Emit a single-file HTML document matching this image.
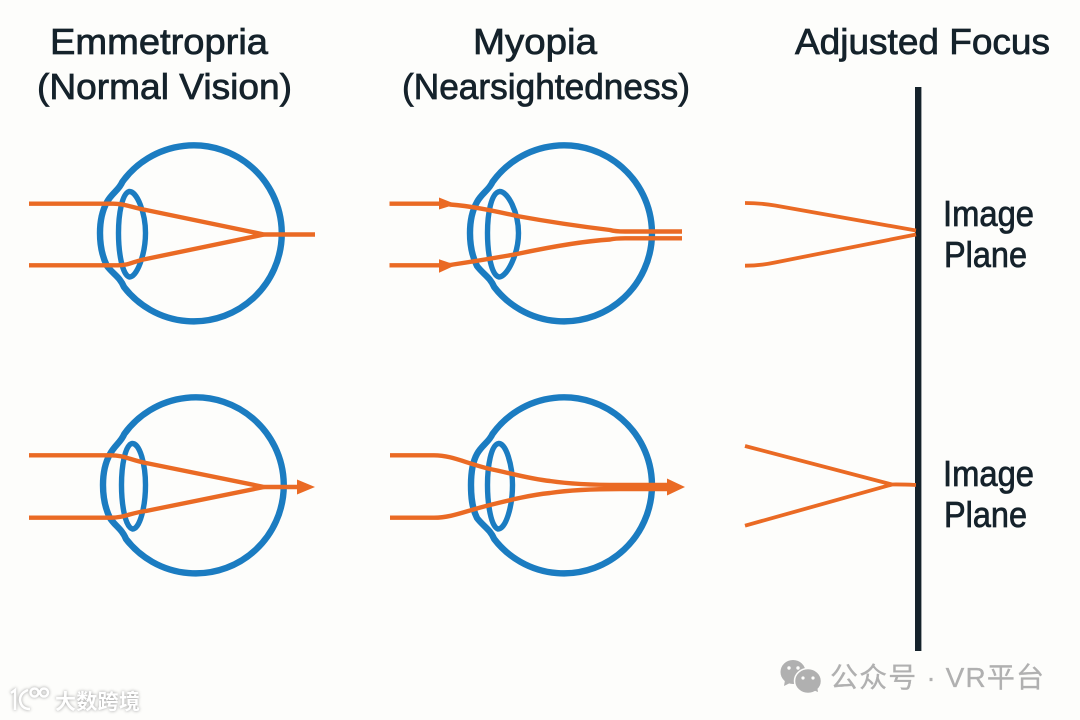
<!DOCTYPE html>
<html><head><meta charset="utf-8">
<style>
html,body{margin:0;padding:0;background:#fdfdfb;width:1080px;height:720px;overflow:hidden}
svg{display:block}
.t{font-family:"Liberation Sans","Noto Sans CJK SC",sans-serif;font-size:36px;fill:#15222b;stroke:#15222b;stroke-width:.75px}
.b{fill:none;stroke:#1b7cc1;stroke-width:6.4;stroke-linejoin:round}
.l{fill:none;stroke:#1b7cc1;stroke-width:5.4;stroke-linejoin:round}
.o{fill:none;stroke:#ea6a24;stroke-width:4.4;stroke-linejoin:round}
.r{fill:none;stroke:#ea6a24;stroke-width:3.8;stroke-linejoin:round}
.a{fill:#ea6a24}
</style></head><body>
<svg width="1080" height="720" viewBox="0 0 1080 720" xmlns="http://www.w3.org/2000/svg">
<rect width="1080" height="720" fill="#fdfdfb"/>

<text class="t" x="50" y="54" textLength="218" lengthAdjust="spacingAndGlyphs">Emmetropria</text>
<text class="t" x="37" y="99" textLength="255" lengthAdjust="spacingAndGlyphs">(Normal Vision)</text>
<text class="t" x="473" y="54" textLength="124" lengthAdjust="spacingAndGlyphs">Myopia</text>
<text class="t" x="402" y="99" textLength="288" lengthAdjust="spacingAndGlyphs">(Nearsightedness)</text>
<text class="t" x="795" y="54" textLength="255" lengthAdjust="spacingAndGlyphs">Adjusted Focus</text>
<text class="t" x="943" y="226" textLength="91" lengthAdjust="spacingAndGlyphs">Image</text>
<text class="t" x="944" y="267" textLength="83" lengthAdjust="spacingAndGlyphs">Plane</text>
<text class="t" x="943" y="486" textLength="91" lengthAdjust="spacingAndGlyphs">Image</text>
<text class="t" x="944" y="527" textLength="83" lengthAdjust="spacingAndGlyphs">Plane</text>

<rect x="915" y="87" width="6.4" height="564" fill="#15222b"/>

<!-- Eye 1 -->
<path class="b" d="M122.300 182 A88 88 0 1 1 124 287 C120 277 113 274 107 266 C102 256 100 245 100 233 C100 222 102 211 107 202 C112 193 119 190 122.300 182Z"/>
<path class="l" d="M129 191.500 C122 194 118.500 214 118.500 233 C118.500 252 122 275 129.500 277 C137 277 145.500 254 145.500 233 C145.500 213 137 191 129 191.500Z"/>
<path class="o" d="M29 203.700 H113 C125 203.700 130 207 146 210 L264 234.500 H315"/>
<path class="o" d="M29 265.300 H118 C130 265.300 134 261 146 259 L264 234.500"/>

<!-- Eye 2 -->
<path class="b" d="M492.500 182 A88 88 0 1 1 494.200 287 C490 277 483 274 477 266 C472 256 470 245 470 233 C470 222 472 211 477 202 C482 193 489 190 492.500 182Z"/>
<path class="l" d="M499.500 191.500 C491 193 487.500 214 487.500 233 C487.500 252 491 275 499 277 C507 277 518.500 254 518.500 233 C518.500 213 508 191 499.500 191.500Z"/>
<path class="o" d="M389.500 203.700 H445 L450 204.500 C470 206 490 210 517 216 C550 222 585 227 610 230 Q615 231.500 625 231.500 H682"/>
<path class="o" d="M389.500 265.300 H445 L450 265 C470 262 495 258 517 254 C550 247 585 241 610 239.500 Q615 238.300 625 238.300 H682"/>
<polygon class="a" points="439,197.500 456,204.200 439,209.500"/>
<polygon class="a" points="439,259.300 456,265 439,272.700"/>

<!-- Eye 3 -->
<path class="b" d="M124.300 434 A88 88 0 1 1 126 539 C122 529 115 526 110 518 C105 508 103 497 103 485 C103 474 105 463 110 454 C115 445 121 442 124.300 434Z"/>
<path class="l" d="M132 443.500 C125 445 121.500 466 121.500 485 C121.500 504 125 527 132.500 529 C140 529 145.500 506 145.500 485 C145.500 465 140 443 132 443.500Z"/>
<path class="o" d="M29 455.300 H110 C125 455.300 130 460 146 463 L264 487 H300"/>
<path class="o" d="M29 517.700 H110 C125 517.700 130 513 146 511 L264 487"/>
<polygon class="a" points="297,479.500 315,487 297,494.500"/>

<!-- Eye 4 -->
<path class="b" d="M492.500 434 A88 88 0 1 1 494.200 539 C490 529 483 526 477 518 C472 508 471 497 471 485 C471 474 472 463 477 454 C482 445 489 442 492.500 434Z"/>
<path class="l" d="M498.500 443.500 C491 445 487.500 466 487.500 485 C487.500 504 491 527 498 529 C506 529 512.500 506 512.500 485 C512.500 465 506 443 498.500 443.500Z"/>
<path class="o" d="M390 455.300 H434 C452 455.300 465 463 490 469 C510 473 530 479 550 481 C570 484 595 485 620 485 H668"/>
<path class="o" d="M390 517.700 H434 C452 517.700 465 511 490 505 C510 500 530 495 550 493 C570 490 595 489 620 489 H668"/>
<polygon class="a" points="667,478.500 685,487 667,495.500"/>

<!-- Right rays -->
<path class="r" d="M745 203 Q760 203 775 205.500 L916 230.500"/>
<path class="r" d="M745 265.700 Q760 265.700 775 262.500 L916 234.500"/>
<path class="r" d="M745 446 L892 484.500 Q900 484.300 916 485"/>
<path class="r" d="M745 525.700 L892 484.500"/>

<!-- WeChat watermark -->
<g fill="#b0b0b0">
<ellipse cx="793" cy="672" rx="12.500" ry="12"/>
<polygon points="785,680 784,686 792,682"/>
<ellipse cx="808" cy="681" rx="13.500" ry="12.500" stroke="#fdfdfb" stroke-width="1.500"/>
<polygon points="813,690 818,692 817,686"/>
</g>
<g fill="#fdfdfb">
<circle cx="789" cy="668" r="1.700"/><circle cx="798" cy="668" r="1.700"/>
<circle cx="803" cy="678" r="1.600"/><circle cx="813" cy="678" r="1.600"/>
</g>
<text x="830" y="687" font-family="'Liberation Sans','Noto Sans CJK SC',sans-serif" font-size="28" fill="#b0b0b0" stroke="#b0b0b0" stroke-width=".3" textLength="214" lengthAdjust="spacing">公众号 · VR平台</text>

<!-- Bottom-left watermark -->
<g style="filter:drop-shadow(0 0 1.500px #9a9a9a)">
<text x="55" y="709" font-family="'Noto Sans CJK SC',sans-serif" font-size="21" font-weight="700" fill="#ffffff" textLength="85" lengthAdjust="spacing">大数跨境</text>
<g fill="none" stroke="#ffffff" stroke-width="2.500">
<path d="M11 693 L15 690 V710"/>
<path d="M28 690 Q20 693 20 700 Q21 709 30 709"/>
<circle cx="34.500" cy="692.500" r="4"/>
<circle cx="44" cy="692.500" r="4"/>
</g>
</g>
</svg>
</body></html>
